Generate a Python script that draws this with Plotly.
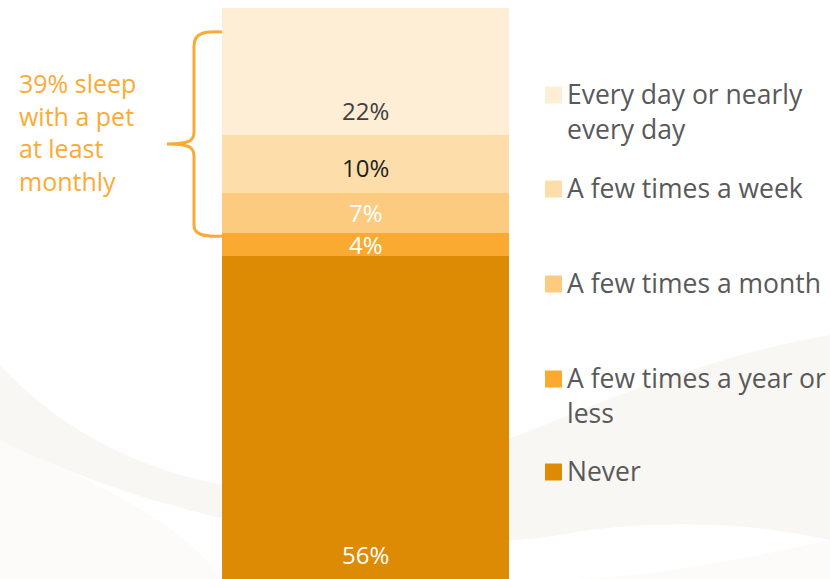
import plotly.graph_objects as go

# Survey shares, stacked bottom to top
categories = ["Never", "A few times a year or\nless", "A few times a month",
              "A few times a week", "Every day or nearly\nevery day"]
values = [56, 4, 7, 10, 22]
colors = ["#DD8A04", "#FBAA31", "#FDCB7F", "#FDDEAA", "#FEEED6"]
label_colors = ["#FFFFFF", "#FFFFFF", "#FFFFFF", "#1E1E1E", "#404040"]
callout_lines = ["39% sleep", "with a pet", "at least", "monthly"]

W, H = 830, 579
Y_TOP = 100.387  # y-axis upper bound so that the stack fills the canvas height

def px_x(px):
    return px / W

def px_y(py):
    return 1 - py / H

def to_path(points):
    out = ""
    for p in points:
        if isinstance(p, str):
            out += p + " "
        else:
            out += f"{px_x(p[0]):.5f},{px_y(p[1]):.5f} "
    return out.strip()

fig = go.Figure()
shapes = []

# Soft decorative swoosh in the background
shapes.append(dict(
    type="path", xref="paper", yref="paper", layer="below",
    path=to_path(["M", (0, 440), "L", (0, 579), "L", (830, 579), "L", (830, 540),
                  "C", (740, 560), (640, 579), (560, 579),
                  "L", (509, 579), "L", (222, 579),
                  "C", (180, 520), (90, 480), (0, 440), "Z"]),
    fillcolor="#FCFBFA", line=dict(width=0),
))
shapes.append(dict(
    type="path", xref="paper", yref="paper", layer="below",
    path=to_path(["M", (0, 365), "C", (50, 420), (130, 470), (230, 486),
                  "C", (380, 505), (500, 440), (620, 395),
                  "C", (700, 365), (770, 345), (830, 335),
                  "L", (830, 540),
                  "C", (740, 520), (640, 520), (560, 535),
                  "C", (470, 550), (330, 540), (230, 520),
                  "C", (140, 500), (60, 470), (0, 440), "Z"]),
    fillcolor="#F9F7F4", line=dict(width=0),
))

base = 0
annotations = []
for cat, val, col, lcol in zip(categories, values, colors, label_colors):
    fig.add_trace(go.Bar(
        x=[365.5], y=[val], base=[base], width=[287],
        marker=dict(color=col, line=dict(width=0)),
        name=cat.replace("\n", " "), showlegend=False, hoverinfo="skip",
    ))
    # value label sits near the base of each segment (centred on thin ones)
    annotations.append(dict(
        x=365.5, y=base + min(4.3, val / 2), xref="x", yref="y",
        text=f"{val}%", showarrow=False,
        font=dict(family="Open Sans", size=24, color=lcol),
        xanchor="center", yanchor="middle",
    ))
    base += val

# Legend drawn as swatches + text, top item first
legend_rows = [95, 189, 284, 379, 472]
line_gap = 35
for cat, col, row in zip(reversed(categories), reversed(colors), legend_rows):
    shapes.append(dict(
        type="rect", xref="paper", yref="paper",
        x0=px_x(545), x1=px_x(562), y0=px_y(row + 8.5), y1=px_y(row - 8.5),
        fillcolor=col, line=dict(width=0), layer="above",
    ))
    for i, line in enumerate(cat.split("\n")):
        annotations.append(dict(
            x=px_x(565), y=px_y(row - 1 + i * line_gap), xref="paper", yref="paper",
            text=line, showarrow=False, xanchor="left", yanchor="middle",
            font=dict(family="Open Sans", size=26.5, color="#595959"),
        ))

# Curly brace spanning the monthly-or-more segments
brace = [
    "M", (222, 32), "C", (202, 31), (194, 34), (194, 46),
    "L", (194, 132), "C", (194, 141), (189, 144), (167, 144),
    "C", (189, 144), (194, 147), (194, 156),
    "L", (194, 225), "C", (194, 234), (202, 237), (222, 236),
]
shapes.append(dict(type="path", xref="paper", yref="paper", path=to_path(brace),
                   line=dict(color="#FAAB36", width=3)))

annotations.append(dict(
    x=px_x(17), y=px_y(132), xref="paper", yref="paper",
    text="<br>".join(callout_lines), showarrow=False, align="left",
    xanchor="left", yanchor="middle",
    font=dict(family="Open Sans", size=25, color="#FAAB36"),
))

fig.update_layout(
    width=W, height=H,
    margin=dict(l=0, r=0, t=0, b=0),
    paper_bgcolor="white", plot_bgcolor="rgba(0,0,0,0)",
    barmode="overlay", bargap=0,
    xaxis=dict(range=[0, W], visible=False, fixedrange=True),
    yaxis=dict(range=[0, Y_TOP], visible=False, fixedrange=True),
    shapes=shapes, annotations=annotations,
    showlegend=False,
)

fig.write_html("out.html")
